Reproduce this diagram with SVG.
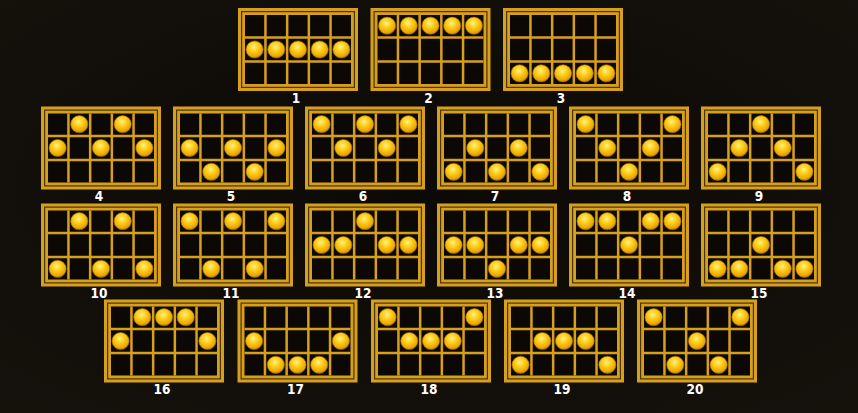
<svg xmlns="http://www.w3.org/2000/svg" xmlns:xlink="http://www.w3.org/1999/xlink" width="858" height="413" viewBox="0 0 858 413">
<style>
.lbl{font-family:"DejaVu Sans Condensed","DejaVu Sans",sans-serif;font-weight:bold;font-size:13.5px;fill:#ffffff;text-anchor:middle}
.frame{fill:#d7a01c}
.gap{fill:none;stroke:#4a3306;stroke-width:1.2}
.cells{fill:#0b0805}
.div{stroke:#d7a01c;stroke-width:2.5}
</style>
<defs>
<radialGradient id="coinGrad" cx="0.45" cy="0.35" r="0.65">
<stop offset="0" stop-color="#fff27e"/>
<stop offset="0.45" stop-color="#fdca18"/>
<stop offset="0.85" stop-color="#e9a600"/>
<stop offset="1" stop-color="#b87a00"/>
</radialGradient>
<radialGradient id="bg" cx="0.5" cy="0.45" r="0.7">
<stop offset="0" stop-color="#0c0a07"/>
<stop offset="1" stop-color="#15110b"/>
</radialGradient>
<g id="board">
<rect class="frame" x="0" y="0" width="120" height="83"/>
<rect class="gap" x="3.6" y="3.6" width="112.8" height="75.8"/>
<rect class="cells" x="7" y="7" width="106" height="69"/>
<path class="div" d="M27.45 7V76M49.15 7V76M70.85 7V76M92.55 7V76M7 29.6H113M7 53.4H113"/>
</g>
<circle id="coin" r="8.6" fill="url(#coinGrad)" stroke="#a86e00" stroke-width="0.6"/>
</defs>
<rect width="858" height="413" fill="url(#bg)"/>

<g id="line-1" transform="translate(238,8)"><use href="#board"/>
<use href="#coin" x="16.6" y="41.5"/><use href="#coin" x="38.3" y="41.5"/><use href="#coin" x="60" y="41.5"/><use href="#coin" x="81.7" y="41.5"/><use href="#coin" x="103.4" y="41.5"/>
<text class="lbl" x="58" y="95">1</text></g>

<g id="line-2" transform="translate(370.5,8)"><use href="#board"/>
<use href="#coin" x="16.6" y="17.7"/><use href="#coin" x="38.3" y="17.7"/><use href="#coin" x="60" y="17.7"/><use href="#coin" x="81.7" y="17.7"/><use href="#coin" x="103.4" y="17.7"/>
<text class="lbl" x="58" y="95">2</text></g>

<g id="line-3" transform="translate(503,8)"><use href="#board"/>
<use href="#coin" x="16.6" y="65.3"/><use href="#coin" x="38.3" y="65.3"/><use href="#coin" x="60" y="65.3"/><use href="#coin" x="81.7" y="65.3"/><use href="#coin" x="103.4" y="65.3"/>
<text class="lbl" x="58" y="95">3</text></g>

<g id="line-4" transform="translate(41,106.5)"><use href="#board"/>
<use href="#coin" x="16.6" y="41.5"/><use href="#coin" x="38.3" y="17.7"/><use href="#coin" x="60" y="41.5"/><use href="#coin" x="81.7" y="17.7"/><use href="#coin" x="103.4" y="41.5"/>
<text class="lbl" x="58" y="94">4</text></g>

<g id="line-5" transform="translate(173,106.5)"><use href="#board"/>
<use href="#coin" x="16.6" y="41.5"/><use href="#coin" x="38.3" y="65.3"/><use href="#coin" x="60" y="41.5"/><use href="#coin" x="81.7" y="65.3"/><use href="#coin" x="103.4" y="41.5"/>
<text class="lbl" x="58" y="94">5</text></g>

<g id="line-6" transform="translate(305,106.5)"><use href="#board"/>
<use href="#coin" x="16.6" y="17.7"/><use href="#coin" x="38.3" y="41.5"/><use href="#coin" x="60" y="17.7"/><use href="#coin" x="81.7" y="41.5"/><use href="#coin" x="103.4" y="17.7"/>
<text class="lbl" x="58" y="94">6</text></g>

<g id="line-7" transform="translate(437,106.5)"><use href="#board"/>
<use href="#coin" x="16.6" y="65.3"/><use href="#coin" x="38.3" y="41.5"/><use href="#coin" x="60" y="65.3"/><use href="#coin" x="81.7" y="41.5"/><use href="#coin" x="103.4" y="65.3"/>
<text class="lbl" x="58" y="94">7</text></g>

<g id="line-8" transform="translate(569,106.5)"><use href="#board"/>
<use href="#coin" x="16.6" y="17.7"/><use href="#coin" x="38.3" y="41.5"/><use href="#coin" x="60" y="65.3"/><use href="#coin" x="81.7" y="41.5"/><use href="#coin" x="103.4" y="17.7"/>
<text class="lbl" x="58" y="94">8</text></g>

<g id="line-9" transform="translate(701,106.5)"><use href="#board"/>
<use href="#coin" x="16.6" y="65.3"/><use href="#coin" x="38.3" y="41.5"/><use href="#coin" x="60" y="17.7"/><use href="#coin" x="81.7" y="41.5"/><use href="#coin" x="103.4" y="65.3"/>
<text class="lbl" x="58" y="94">9</text></g>

<g id="line-10" transform="translate(41,203.5)"><use href="#board"/>
<use href="#coin" x="16.6" y="65.3"/><use href="#coin" x="38.3" y="17.7"/><use href="#coin" x="60" y="65.3"/><use href="#coin" x="81.7" y="17.7"/><use href="#coin" x="103.4" y="65.3"/>
<text class="lbl" x="58" y="94">10</text></g>

<g id="line-11" transform="translate(173,203.5)"><use href="#board"/>
<use href="#coin" x="16.6" y="17.7"/><use href="#coin" x="38.3" y="65.3"/><use href="#coin" x="60" y="17.7"/><use href="#coin" x="81.7" y="65.3"/><use href="#coin" x="103.4" y="17.7"/>
<text class="lbl" x="58" y="94">11</text></g>

<g id="line-12" transform="translate(305,203.5)"><use href="#board"/>
<use href="#coin" x="16.6" y="41.5"/><use href="#coin" x="38.3" y="41.5"/><use href="#coin" x="60" y="17.7"/><use href="#coin" x="81.7" y="41.5"/><use href="#coin" x="103.4" y="41.5"/>
<text class="lbl" x="58" y="94">12</text></g>

<g id="line-13" transform="translate(437,203.5)"><use href="#board"/>
<use href="#coin" x="16.6" y="41.5"/><use href="#coin" x="38.3" y="41.5"/><use href="#coin" x="60" y="65.3"/><use href="#coin" x="81.7" y="41.5"/><use href="#coin" x="103.4" y="41.5"/>
<text class="lbl" x="58" y="94">13</text></g>

<g id="line-14" transform="translate(569,203.5)"><use href="#board"/>
<use href="#coin" x="16.6" y="17.7"/><use href="#coin" x="38.3" y="17.7"/><use href="#coin" x="60" y="41.5"/><use href="#coin" x="81.7" y="17.7"/><use href="#coin" x="103.4" y="17.7"/>
<text class="lbl" x="58" y="94">14</text></g>

<g id="line-15" transform="translate(701,203.5)"><use href="#board"/>
<use href="#coin" x="16.6" y="65.3"/><use href="#coin" x="38.3" y="65.3"/><use href="#coin" x="60" y="41.5"/><use href="#coin" x="81.7" y="65.3"/><use href="#coin" x="103.4" y="65.3"/>
<text class="lbl" x="58" y="94">15</text></g>

<g id="line-16" transform="translate(104,299.5)"><use href="#board"/>
<use href="#coin" x="16.6" y="41.5"/><use href="#coin" x="38.3" y="17.7"/><use href="#coin" x="60" y="17.7"/><use href="#coin" x="81.7" y="17.7"/><use href="#coin" x="103.4" y="41.5"/>
<text class="lbl" x="58" y="94">16</text></g>

<g id="line-17" transform="translate(237.5,299.5)"><use href="#board"/>
<use href="#coin" x="16.6" y="41.5"/><use href="#coin" x="38.3" y="65.3"/><use href="#coin" x="60" y="65.3"/><use href="#coin" x="81.7" y="65.3"/><use href="#coin" x="103.4" y="41.5"/>
<text class="lbl" x="58" y="94">17</text></g>

<g id="line-18" transform="translate(371,299.5)"><use href="#board"/>
<use href="#coin" x="16.6" y="17.7"/><use href="#coin" x="38.3" y="41.5"/><use href="#coin" x="60" y="41.5"/><use href="#coin" x="81.7" y="41.5"/><use href="#coin" x="103.4" y="17.7"/>
<text class="lbl" x="58" y="94">18</text></g>

<g id="line-19" transform="translate(504,299.5)"><use href="#board"/>
<use href="#coin" x="16.6" y="65.3"/><use href="#coin" x="38.3" y="41.5"/><use href="#coin" x="60" y="41.5"/><use href="#coin" x="81.7" y="41.5"/><use href="#coin" x="103.4" y="65.3"/>
<text class="lbl" x="58" y="94">19</text></g>

<g id="line-20" transform="translate(637,299.5)"><use href="#board"/>
<use href="#coin" x="16.6" y="17.7"/><use href="#coin" x="38.3" y="65.3"/><use href="#coin" x="60" y="41.5"/><use href="#coin" x="81.7" y="65.3"/><use href="#coin" x="103.4" y="17.7"/>
<text class="lbl" x="58" y="94">20</text></g>
</svg>
